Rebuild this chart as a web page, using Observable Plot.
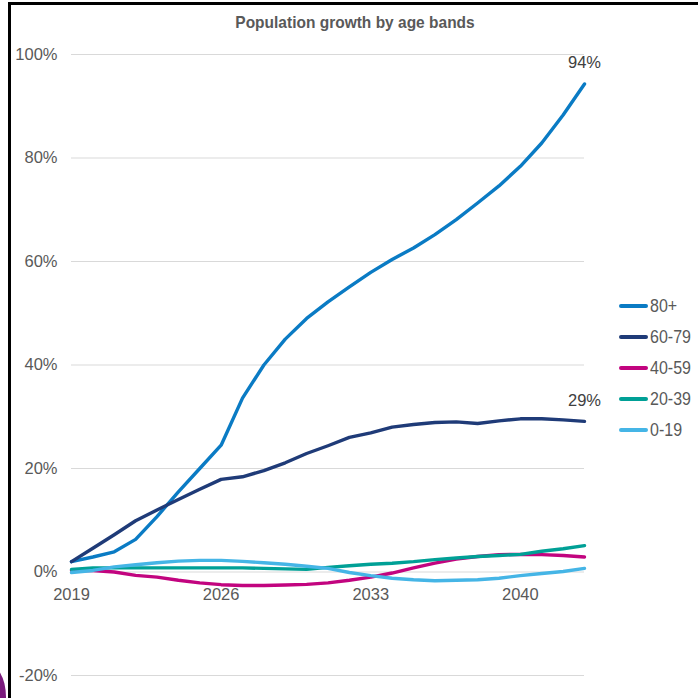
<!DOCTYPE html>
<html>
<head>
<meta charset="utf-8">
<script src="https://cdn.jsdelivr.net/npm/d3@7"></script>
<script src="https://cdn.jsdelivr.net/npm/@observablehq/plot@0.6"></script>
<style>
  html, body { margin: 0; padding: 0; background: #fff; }
  body { width: 698px; height: 698px; position: relative; overflow: hidden; font-family: "Liberation Sans", Arial, sans-serif; }
  #chart { position: absolute; left: 0; top: 0; }
  #title { position: absolute; left: 0; width: 710px; top: 13px; text-align: center; font-weight: bold; font-size: 15.5px; color: #595959; transform: scaleY(1.1); }
  #legend { position: absolute; left: 619px; top: 291px; }
  .row { display: flex; align-items: center; height: 30.8px; font-size: 16px; color: #595959; }
  .row span { display: inline-block; transform: scaleY(1.1); }
  .sw { width: 29px; height: 4px; border-radius: 2px; margin-right: 2px; }
  .bl { position: absolute; background: #000; }
  #blob { position: absolute; left: -36px; top: 662px; width: 42px; height: 70px; border-radius: 50%; background: #7a1a7c; }
</style>
</head>
<body>
<div id="chart"></div>
<div id="title">Population growth by age bands</div>
<div id="legend"></div>
<div class="bl" style="left:8px; top:2px; width:3px; height:696px;"></div>
<div class="bl" style="left:8px; top:2px; width:690px; height:3px;"></div>
<div id="blob"></div>
<script>
const years = [2019,2020,2021,2022,2023,2024,2025,2026,2027,2028,2029,2030,2031,2032,2033,2034,2035,2036,2037,2038,2039,2040,2041,2042,2043];
const bands = ["80+", "60-79", "40-59", "20-39", "0-19"];
const colors = ["#0a7bc4", "#1f3b78", "#c2047f", "#00a096", "#45b5e6"];
const v80 =   [2.0, 2.9, 3.9, 6.3, 10.7, 15.5, 20.0, 24.5, 33.6, 40.0, 45.0, 49.0, 52.2, 55.1, 57.9, 60.4, 62.6, 65.2, 68.1, 71.3, 74.6, 78.4, 82.9, 88.3, 94.3];
const v60 =   [2.0, 4.6, 7.2, 9.9, 12.0, 14.0, 16.0, 17.9, 18.4, 19.6, 21.1, 22.9, 24.4, 26.0, 26.9, 28.0, 28.5, 28.9, 29.0, 28.7, 29.2, 29.6, 29.6, 29.4, 29.1];
const v40 =   [0.3, 0.3, 0.0, -0.65, -1.0, -1.6, -2.1, -2.45, -2.6, -2.6, -2.5, -2.4, -2.1, -1.6, -1.0, -0.2, 0.8, 1.7, 2.5, 3.0, 3.35, 3.4, 3.35, 3.2, 2.9];
const v20 =   [0.5, 0.8, 0.8, 0.8, 0.8, 0.8, 0.8, 0.8, 0.8, 0.7, 0.6, 0.5, 0.9, 1.2, 1.5, 1.7, 2.0, 2.4, 2.7, 3.0, 3.2, 3.4, 4.0, 4.5, 5.1];
const v0 =    [-0.1, 0.3, 1.0, 1.4, 1.8, 2.1, 2.25, 2.25, 2.05, 1.8, 1.5, 1.1, 0.7, -0.1, -0.7, -1.2, -1.5, -1.7, -1.6, -1.5, -1.2, -0.7, -0.3, 0.1, 0.7];
const seriesValues = [v80, v60, v40, v20, v0];
const yTicks = [-20, 0, 20, 40, 60, 80, 100];
const xTicks = [2019, 2026, 2033, 2040];
const endLabels = [{band: "80+", text: "94%"}, {band: "60-79", text: "29%"}];

const data = bands.flatMap((b, i) => years.map((yr, j) => ({band: b, year: yr, value: seriesValues[i][j]})));
const lastYear = years[years.length - 1];
const endData = endLabels.map(l => ({...l, year: lastYear, value: seriesValues[bands.indexOf(l.band)][years.length - 1]}));

const chart = Plot.plot({
  width: 698,
  height: 698,
  marginLeft: 71,
  marginRight: 114,
  marginTop: 54,
  marginBottom: 23,
  style: {fontFamily: '"Liberation Sans", Arial, sans-serif', background: "transparent"},
  x: {domain: [2019, 2043], axis: null},
  y: {domain: [-20, 100], axis: null},
  color: {domain: bands, range: colors},
  marks: [
    Plot.ruleY(yTicks, {y: d => d, stroke: "#d9d9d9", strokeWidth: 1.2}),
    Plot.axisY({ticks: yTicks, tickFormat: d => d + "%", tickSize: 0, tickPadding: 14, fontSize: 16.5, fill: "#595959", label: null}),
    Plot.text(xTicks, {x: d => d, y: 0, text: d => String(d), dy: 23, fontSize: 16.5, fill: "#595959"}),
    Plot.line(data, {x: "year", y: "value", z: "band", stroke: "band", strokeWidth: 3.4, strokeLinejoin: "round", strokeLinecap: "round"}),
    Plot.text(endData, {x: "year", y: "value", text: "text", dy: -21, fontSize: 16.5, fill: "#404040"})
  ]
});
document.getElementById("chart").appendChild(chart);

const legend = document.getElementById("legend");
bands.forEach((b, i) => {
  const row = document.createElement("div");
  row.className = "row";
  const sw = document.createElement("div");
  sw.className = "sw";
  sw.style.background = colors[i];
  const t = document.createElement("span");
  t.textContent = b;
  row.appendChild(sw);
  row.appendChild(t);
  legend.appendChild(row);
});
</script>
</body>
</html>
